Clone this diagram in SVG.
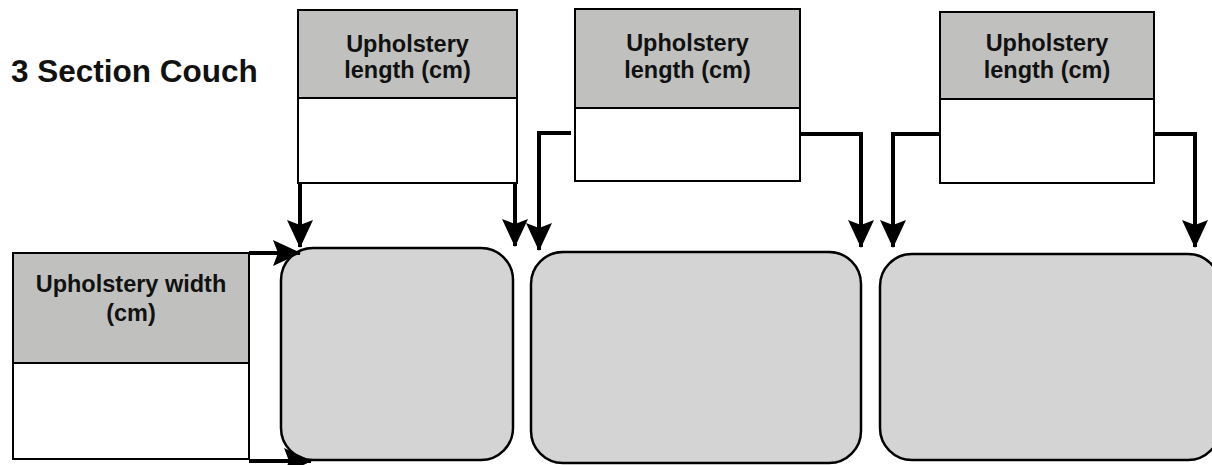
<svg xmlns="http://www.w3.org/2000/svg" width="1212" height="465" viewBox="0 0 1212 465">
<style>
.hdr{fill:#c0c1bf;stroke:#000;stroke-width:2}
.cell{fill:#fff;stroke:#000;stroke-width:2}
.couch{fill:#d4d4d4;stroke:#000;stroke-width:2.5}
.lbl{font-family:"Liberation Sans",Arial,sans-serif;font-weight:bold;font-size:23.5px;fill:#111;text-anchor:middle}
.title{font-family:"Liberation Sans",Arial,sans-serif;font-weight:bold;font-size:31.5px;fill:#111}
.conn{fill:none;stroke:#000;stroke-width:4;marker-end:url(#ah)}
</style>
<defs>
<marker id="ah" markerUnits="userSpaceOnUse" viewBox="0 0 28 28" markerWidth="28" markerHeight="28" refX="27" refY="14" orient="auto" overflow="visible">
<path d="M0,1 L28,14 L0,27 L5,14 z" fill="#000"/>
</marker>
</defs>
<rect width="1212" height="465" fill="#fff"/>
<text class="title" x="11" y="82">3 Section Couch</text>

<g id="couch1"><rect class="couch" x="281" y="248" width="232" height="212" rx="32"/></g>
<g id="couch2"><rect class="couch" x="531" y="252" width="330" height="211" rx="32"/></g>
<g id="couch3"><rect class="couch" x="880" y="254" width="340" height="206" rx="32"/></g>

<g id="length1">
<rect class="hdr" x="298" y="10" width="219" height="88"/>
<rect class="cell" x="298" y="98" width="219" height="85"/>
<text class="lbl" x="407.5" y="52">Upholstery</text>
<text class="lbl" x="407.5" y="78">length (cm)</text>
</g>
<g id="length2">
<rect class="hdr" x="575" y="9" width="225" height="99"/>
<rect class="cell" x="575" y="108" width="225" height="73"/>
<text class="lbl" x="687.5" y="51">Upholstery</text>
<text class="lbl" x="687.5" y="78">length (cm)</text>
</g>
<g id="length3">
<rect class="hdr" x="940" y="12" width="214" height="87"/>
<rect class="cell" x="940" y="99" width="214" height="84"/>
<text class="lbl" x="1047" y="51">Upholstery</text>
<text class="lbl" x="1047" y="78">length (cm)</text>
</g>
<g id="width">
<rect class="hdr" x="13" y="253" width="236" height="110"/>
<rect class="cell" x="13" y="363" width="236" height="96"/>
<text class="lbl" x="131" y="292">Upholstery width</text>
<text class="lbl" x="131" y="321">(cm)</text>
</g>

<g id="connectors">
<path class="conn" d="M300,183 V247"/>
<path class="conn" d="M515,183 V246"/>
<path class="conn" d="M571,133 H539 V250"/>
<path class="conn" d="M800,134 H861 V247"/>
<path class="conn" d="M940,134 H893 V247"/>
<path class="conn" d="M1154,134 H1195 V247"/>
<path class="conn" d="M249,253 H300"/>
<path class="conn" d="M249,461 H311"/>
</g>
</svg>
